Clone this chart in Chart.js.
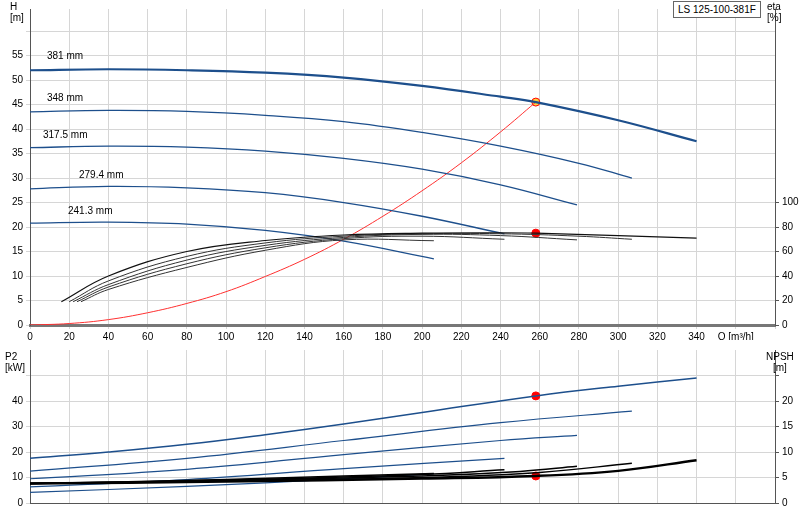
<!DOCTYPE html>
<html>
<head>
<meta charset="utf-8">
<script src="https://cdn.jsdelivr.net/npm/chart.js@4"></script>
<style>
  body { margin: 0; background: #fff; font-family: "Liberation Sans", Arial, sans-serif; }
  #wrap { position: relative; width: 800px; height: 520px; }
  .lbl { position: absolute; font-size: 10px; color: #000; line-height: 11px; white-space: nowrap; }
  #top { position: absolute; left: 0; top: 0; }
  #bot { position: absolute; left: 0; top: 340px; }
</style>
</head>
<body>
<div id="wrap">
  <canvas id="top" width="800" height="340"></canvas>
  <canvas id="bot" width="800" height="180"></canvas>
  <div class="lbl" style="left:10px;top:1px">H<br>[m]</div>
  <div class="lbl" style="left:767px;top:1px">eta<br>[%]</div>
  <div class="lbl" style="left:673px;top:1px;border:1px solid #666;padding:2px 4px;background:#fff">LS 125-100-381F</div>
  <div class="lbl" style="left:47px;top:50px">381 mm</div>
  <div class="lbl" style="left:47px;top:92px">348 mm</div>
  <div class="lbl" style="left:43px;top:129px">317.5 mm</div>
  <div class="lbl" style="left:79px;top:169px">279.4 mm</div>
  <div class="lbl" style="left:68px;top:205px">241.3 mm</div>
  <div class="lbl" style="left:5px;top:351px">P2<br>[kW]</div>
  <div class="lbl" style="left:766px;top:351px;text-align:center">NPSH<br>[m]</div>
</div>
<script>
// Q-H curves per impeller diameter
const diameters = ['381 mm', '348 mm', '317.5 mm', '279.4 mm', '241.3 mm'];
const qh381 = [[0,52],[40,52.2],[80,52],[120,51.5],[160,50.5],[200,48.8],[240,46.6],[258,45.5],[300,41.8],[340,37.5]];
const qh348 = [[0,43.5],[40,43.8],[80,43.6],[120,42.8],[160,41.5],[200,39.3],[240,36.5],[280,33],[307,30]];
const qh317 = [[0,36.2],[40,36.5],[80,36.3],[120,35.5],[160,34],[200,31.8],[240,28.6],[279,24.5]];
const qh279 = [[0,27.8],[40,28.3],[80,28],[120,27],[160,25],[200,22.2],[242,18.6]];
const qh241 = [[0,20.8],[40,21],[80,20.6],[120,19.3],[160,17.1],[206,13.5]];

// system curve
const sysCurve = [[0,0],[20,0.3],[40,1.1],[60,2.5],[80,4.4],[100,6.8],[120,9.9],[140,13.4],[160,17.5],[180,22.2],[200,27.4],[220,33.1],[240,39.4],[258,45.5]];

// efficiency curves [%]
const eta381 = [[16,19],[40,40],[80,60],[120,69],[160,73.5],[200,75],[240,75.3],[258,75],[300,73],[340,71]];
const eta348 = [[20,19],[40,36],[80,56],[120,67],[160,72.5],[200,74.5],[240,74.5],[280,72.5],[307,70]];
const eta317 = [[22,19],[40,33],[80,53],[120,65],[160,71.5],[200,74],[240,73],[279,69.5]];
const eta279 = [[24,19],[40,31],[80,50],[120,63],[160,70.5],[200,72.5],[242,70]];
const eta241 = [[26,19],[40,29],[80,47],[120,61],[160,69.5],[206,68.8]];

// power P2 [kW]
const p2_381 = [[0,17.5],[40,20],[80,23],[120,26.8],[160,31],[200,35.5],[258,42],[300,45.8],[340,49]];
const p2_348 = [[0,12.5],[80,17.5],[160,24.5],[240,31.5],[307,36]];
const p2_317 = [[0,9.5],[80,13.2],[160,19],[240,24.5],[279,26.5]];
const p2_279 = [[0,6.3],[80,9.2],[160,13.5],[242,17.5]];
const p2_241 = [[0,4.2],[80,6.5],[160,9.5],[206,11.5]];

// NPSH [m]
const npsh381 = [[0,3.8],[100,4.2],[200,4.8],[258,5.3],[300,6.3],[340,8.4]];
const npsh348 = [[0,3.8],[100,4.3],[200,5],[260,6],[307,7.8]];
const npsh317 = [[0,3.8],[100,4.4],[200,5.3],[250,6.2],[279,7.2]];
const npsh279 = [[0,3.8],[100,4.5],[200,5.6],[242,6.5]];
const npsh241 = [[0,3.8],[100,4.6],[160,5.3],[206,5.8]];

const dutyQ = 258;
const blue = '#1d4f8c';
const grid = '#d6d6d6';
const font = { family: 'Liberation Sans', size: 10 };

const pts = a => a.map(([x, y]) => ({ x, y }));
const line = (data, color, width, axis) => ({
  data: pts(data), borderColor: color, borderWidth: width, showLine: true,
  pointRadius: 0, tension: 0.4, yAxisID: axis, fill: false
});
const dot = (x, y, axis, fillc) => ({
  data: [{ x, y }], pointRadius: 4, pointBackgroundColor: fillc, pointBorderColor: 'red',
  pointBorderWidth: 1, showLine: false, yAxisID: axis
});

function fixW(w) { return s => { s.width = w; }; }
function fixH(h) { return s => { s.height = h; }; }

new Chart(document.getElementById('top'), {
  type: 'scatter',
  data: {
    datasets: [
      line(eta381, '#111', 1.2, 'eta'), line(eta348, '#333', 1, 'eta'), line(eta317, '#333', 1, 'eta'),
      line(eta279, '#333', 1, 'eta'), line(eta241, '#333', 1, 'eta'),
      line(qh381, blue, 2.2, 'y'), line(qh348, blue, 1.3, 'y'), line(qh317, blue, 1.3, 'y'),
      line(qh279, blue, 1.3, 'y'), line(qh241, blue, 1.3, 'y'),
      line(sysCurve, '#ff3030', 1, 'y'),
      dot(dutyQ, 75, 'eta', 'red'),
      dot(dutyQ, 45.5, 'y', '#ffd23f')
    ]
  },
  options: {
    responsive: false, animation: false,
    layout: { padding: { top: 0, right: 0, left: 0, bottom: 0 } },
    plugins: { legend: { display: false }, tooltip: { enabled: false } },
    scales: {
      x: {
        type: 'linear', min: 0, max: 380, afterFit: fixH(15),
        afterBuildTicks: s => { s.ticks = []; for (let v = 0; v <= 380; v += 20) s.ticks.push({ value: v }); },
        ticks: { font, color: '#000', padding: 2, maxRotation: 0, autoSkip: false,
          callback: v => v <= 340 ? v : (v === 360 ? 'Q [m³/h]' : '') },
        grid: { color: grid, tickLength: 4 },
        border: { color: '#777', width: 3 }
      },
      y: {
        min: 0, max: 64.5, position: 'left', afterFit: fixW(30),
        afterBuildTicks: s => { s.ticks = []; for (let v = 0; v <= 60; v += 5) s.ticks.push({ value: v }); },
        ticks: { font, color: '#000', callback: v => v <= 55 ? v : '' },
        grid: { color: grid, tickLength: 4 },
        border: { color: '#555' }
      },
      eta: {
        min: 0, max: 258, position: 'right', afterFit: fixW(25),
        afterBuildTicks: s => { s.ticks = []; for (let v = 0; v <= 100; v += 20) s.ticks.push({ value: v }); },
        ticks: { font, color: '#000' },
        grid: { drawOnChartArea: false, tickLength: 4, color: '#555' },
        border: { color: '#555' }
      }
    }
  }
});

new Chart(document.getElementById('bot'), {
  type: 'scatter',
  data: {
    datasets: [
      line(npsh381, '#000', 2.5, 'npsh'), line(npsh348, '#000', 1.5, 'npsh'), line(npsh317, '#000', 1.5, 'npsh'),
      line(npsh279, '#000', 1.5, 'npsh'), line(npsh241, '#000', 1.5, 'npsh'),
      line(p2_381, blue, 1.5, 'y'), line(p2_348, blue, 1.2, 'y'), line(p2_317, blue, 1.2, 'y'),
      line(p2_279, blue, 1.2, 'y'), line(p2_241, blue, 1.2, 'y'),
      dot(dutyQ, 42, 'y', 'red'),
      dot(dutyQ, 5.3, 'npsh', 'red')
    ]
  },
  options: {
    responsive: false, animation: false,
    layout: { padding: { top: 10, right: 0, left: 0, bottom: 0 } },
    plugins: { legend: { display: false }, tooltip: { enabled: false } },
    scales: {
      x: {
        type: 'linear', min: 0, max: 380, afterFit: fixH(17),
        afterBuildTicks: s => { s.ticks = []; for (let v = 0; v <= 380; v += 20) s.ticks.push({ value: v }); },
        ticks: { display: false },
        grid: { color: grid, tickLength: 0 },
        border: { color: '#555' }
      },
      y: {
        min: 0, max: 60, position: 'left', afterFit: fixW(30),
        afterBuildTicks: s => { s.ticks = []; for (let v = 0; v <= 50; v += 10) s.ticks.push({ value: v }); },
        ticks: { font, color: '#000', callback: v => v <= 40 ? v : '' },
        grid: { color: grid, tickLength: 4 },
        border: { color: '#555' }
      },
      npsh: {
        min: 0, max: 30, position: 'right', afterFit: fixW(25),
        afterBuildTicks: s => { s.ticks = []; for (let v = 0; v <= 25; v += 5) s.ticks.push({ value: v }); },
        ticks: { font, color: '#000', callback: v => v <= 20 ? v : '' },
        grid: { drawOnChartArea: false, tickLength: 4, color: '#555' },
        border: { color: '#555' }
      }
    }
  }
});
</script>
</body>
</html>
